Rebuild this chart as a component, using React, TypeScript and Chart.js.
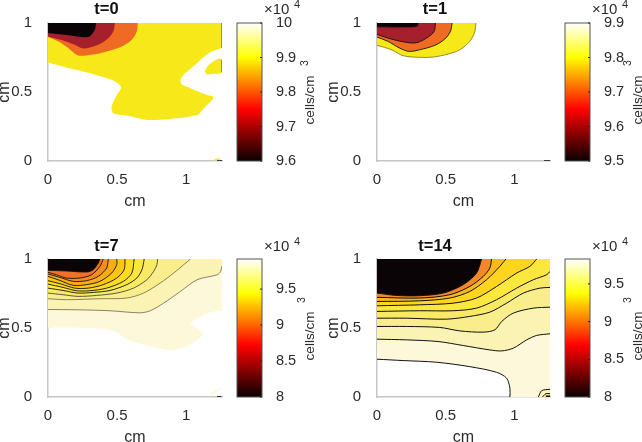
import React, { useEffect, useRef } from "react";
import { Chart, registerables } from "chart.js";

Chart.register(...registerables);

type Pt = [number, number];

const FONT = "'Liberation Sans', Arial, sans-serif";
const INK = "#2b2b2b";
const X_MAX = 1.26;
const X_TICKS = [0, 0.5, 1];
const Y_TICKS = [0, 0.5, 1];

// Colormap stops of the colour bars
const HOT_OFFSETS = [0, 0.375, 0.75, 1];
const HOT_COLORS = ["#0a0000", "#ff0000", "#ffff00", "#ffffff"];

// t=0
const t0Black: Pt[] = [[0.347, 1], [0.34, 0.952], [0.308, 0.908], [0.267, 0.896], [0.133, 0.913], [0, 0.927]];
const t0Red: Pt[] = [[0.485, 1], [0.473, 0.939], [0.43, 0.884], [0.364, 0.843], [0.255, 0.816], [0.194, 0.843], [0.109, 0.874], [0, 0.903]];
const t0Orange: Pt[] = [[0.65, 1], [0.643, 0.939], [0.607, 0.879], [0.534, 0.83], [0.425, 0.794], [0.316, 0.77], [0.218, 0.765], [0.146, 0.818], [0.073, 0.867], [0, 0.898]];
const t0Yellow: Pt[] = [[0, 0.714], [0.133, 0.678], [0.255, 0.649], [0.4, 0.608], [0.485, 0.576], [0.529, 0.535], [0.498, 0.479], [0.461, 0.395], [0.473, 0.346], [0.57, 0.329], [0.716, 0.298], [0.862, 0.303], [1.08, 0.334], [1.129, 0.383], [1.2, 0.462], [1.153, 0.479], [1.032, 0.528], [0.971, 0.552], [0.959, 0.588], [0.995, 0.637], [1.08, 0.709], [1.165, 0.782], [1.26, 0.818]];
const t0Island: Pt[] = [[1.133, 0.649], [1.165, 0.697], [1.226, 0.738], [1.26, 0.734], [1.26, 0.642], [1.2, 0.632], [1.153, 0.625]];
const t0Corner: Pt[] = [[1.177, 0], [1.226, 0.019], [1.26, 0.012]];
const t0Dot: Pt[] = [[1.225, 0.002], [1.26, 0.002]];
const t0EdgeTop: Pt[] = [[1.26, 1], [1.26, 0.82]];
const t0EdgeIsland: Pt[] = [[1.26, 0.734], [1.26, 0.642]];

// t=1
const t1Black: Pt[] = [[0.3, 1], [0.292, 0.976], [0.19, 0.971], [0, 0.972]];
const t1Red: Pt[] = [[0.426, 1], [0.416, 0.939], [0.372, 0.898], [0.3, 0.86], [0.25, 0.855], [0.141, 0.874], [0.056, 0.898], [0, 0.918]];
const t1Orange: Pt[] = [[0.547, 1], [0.535, 0.939], [0.494, 0.884], [0.421, 0.838], [0.311, 0.806], [0.234, 0.794], [0.165, 0.818], [0.08, 0.867], [0, 0.898]];
const t1Yellow: Pt[] = [[0.72, 1], [0.713, 0.939], [0.676, 0.867], [0.603, 0.806], [0.518, 0.775], [0.409, 0.753], [0.311, 0.751], [0.19, 0.763], [0.117, 0.801], [0.056, 0.823], [0, 0.838]];
const t1Dot: Pt[] = [[1.217, 0.002], [1.26, 0.002]];

// t=7
const t7Cream: Pt[] = [[0, 0.504], [0.133, 0.504], [0.376, 0.494], [0.498, 0.47], [0.558, 0.426], [0.691, 0.378], [0.886, 0.341], [1.007, 0.366], [1.08, 0.414], [1.121, 0.455], [1.08, 0.499], [1.032, 0.528], [1.08, 0.571], [1.177, 0.615], [1.26, 0.625]];
const t7L1: Pt[] = [[0, 0.634], [0.206, 0.632], [0.449, 0.625], [0.667, 0.61], [0.74, 0.625], [0.837, 0.68], [0.959, 0.765], [1.08, 0.85], [1.226, 0.886], [1.25, 0.91], [1.26, 0.95]];
const t7L2: Pt[] = [[0, 0.712], [0.133, 0.705], [0.376, 0.712], [0.57, 0.717], [0.692, 0.753], [0.813, 0.826], [0.91, 0.898], [0.983, 0.959], [1.032, 1]];
const t7L3: Pt[] = [[0, 0.753], [0.109, 0.741], [0.218, 0.729], [0.352, 0.736], [0.498, 0.753], [0.619, 0.789], [0.716, 0.85], [0.765, 0.91], [0.789, 0.959], [0.794, 1]];
const t7L4: Pt[] = [[0, 0.789], [0.109, 0.772], [0.218, 0.753], [0.328, 0.758], [0.449, 0.772], [0.57, 0.814], [0.643, 0.862], [0.68, 0.922], [0.697, 1]];
const t7L5: Pt[] = [[0, 0.818], [0.109, 0.794], [0.206, 0.77], [0.303, 0.77], [0.425, 0.789], [0.546, 0.838], [0.607, 0.898], [0.624, 1]];
const t7L6: Pt[] = [[0, 0.843], [0.097, 0.818], [0.194, 0.789], [0.291, 0.789], [0.4, 0.814], [0.498, 0.862], [0.551, 0.922], [0.558, 1]];
const t7L7: Pt[] = [[0, 0.874], [0.085, 0.845], [0.182, 0.809], [0.279, 0.814], [0.376, 0.838], [0.461, 0.898], [0.498, 0.959], [0.498, 1]];
const t7L8: Pt[] = [[0, 0.891], [0.085, 0.867], [0.182, 0.838], [0.279, 0.843], [0.364, 0.874], [0.425, 0.935], [0.437, 1]];
const t7L9: Pt[] = [[0, 0.903], [0.061, 0.886], [0.133, 0.862], [0.231, 0.862], [0.316, 0.886], [0.376, 0.947], [0.4, 1]];
const t7Black: Pt[] = [[0, 0.918], [0.133, 0.913], [0.284, 0.906], [0.328, 0.923], [0.364, 0.971], [0.376, 1]];
const t7Corner: Pt[] = [[1.165, 0], [1.2, 0.044], [1.26, 0.063]];
const t7Dot: Pt[] = [[1.225, 0.002], [1.255, 0.002]];

// t=14
const t14L1: Pt[] = [[0, 0.274], [0.19, 0.264], [0.433, 0.252], [0.676, 0.22], [0.871, 0.179], [0.944, 0.136], [0.968, 0.063], [0.968, 0]];
const t14L2: Pt[] = [[0, 0.419], [0.214, 0.414], [0.445, 0.402], [0.628, 0.373], [0.822, 0.341], [0.908, 0.334], [0.993, 0.354], [1.09, 0.414], [1.163, 0.446], [1.26, 0.458]];
const t14L3: Pt[] = [[0, 0.511], [0.214, 0.511], [0.457, 0.504], [0.603, 0.479], [0.774, 0.47], [0.859, 0.487], [0.908, 0.547], [0.993, 0.608], [1.139, 0.644], [1.26, 0.651]];
const t14L4: Pt[] = [[0, 0.571], [0.214, 0.571], [0.506, 0.564], [0.676, 0.584], [0.822, 0.615], [0.944, 0.68], [1.066, 0.753], [1.187, 0.789], [1.26, 0.794]];
const t14L5: Pt[] = [[0, 0.62], [0.311, 0.625], [0.555, 0.625], [0.725, 0.644], [0.871, 0.705], [1.017, 0.789], [1.139, 0.85], [1.236, 0.886], [1.26, 0.91]];
const t14L6: Pt[] = [[0, 0.661], [0.311, 0.668], [0.555, 0.68], [0.725, 0.717], [0.871, 0.801], [1.017, 0.898], [1.114, 0.947], [1.163, 1]];
const t14L7: Pt[] = [[0, 0.692], [0.311, 0.697], [0.53, 0.717], [0.676, 0.765], [0.798, 0.85], [0.895, 0.947], [0.939, 1]];
const t14L8: Pt[] = [[0, 0.722], [0.311, 0.717], [0.53, 0.741], [0.676, 0.801], [0.774, 0.874], [0.822, 0.935], [0.835, 1]];
const t14Black: Pt[] = [[0, 0.753], [0.141, 0.736], [0.311, 0.734], [0.482, 0.753], [0.628, 0.814], [0.725, 0.898], [0.762, 1]];
const t14CornerA: Pt[] = [[1.175, 0], [1.2, 0.046], [1.26, 0.056]];
const t14CornerB: Pt[] = [[1.205, 0], [1.23, 0.024], [1.26, 0.024]];
const t14Dot: Pt[] = [[1.23, 0.004], [1.26, 0.004]];

const TL: Pt[] = [[0, 1]];
const TR_TL: Pt[] = [[X_MAX, 1], [0, 1]];
const BR_TR_TL: Pt[] = [[X_MAX, 0], [X_MAX, 1], [0, 1]];
const NONE: Pt[] = [];

type Layer = { pts: Pt[]; close: Pt[]; fill: string; line?: string; width?: number };

const layers0: Layer[] = [
  { pts: t0Yellow, close: TR_TL, fill: "#f7e81a" },
  { pts: t0Island, close: NONE, fill: "#f7e81a" },
  { pts: t0Orange, close: TL, fill: "#ef6a22" },
  { pts: t0Red, close: TL, fill: "#a61f2c" },
  { pts: t0Black, close: TL, fill: "#0a0406" },
  { pts: t0Corner, close: NONE, fill: "#f7e81a" },
  { pts: t0Dot, close: NONE, fill: "#0a0406", line: "#111", width: 1 },
  { pts: t0EdgeTop, close: NONE, fill: "transparent", line: "#444", width: 1 },
  { pts: t0EdgeIsland, close: NONE, fill: "transparent", line: "#444", width: 1 },
];
const layers1: Layer[] = [
  { pts: t1Yellow, close: TL, fill: "#f7e81a", line: "#7a7410", width: 0.8 },
  { pts: t1Orange, close: TL, fill: "#ef6a22", line: "#111", width: 0.9 },
  { pts: t1Red, close: TL, fill: "#a61f2c", line: "#111", width: 0.9 },
  { pts: t1Black, close: TL, fill: "#0a0406", line: "#111", width: 0.8 },
  { pts: t1Dot, close: NONE, fill: "#0a0406", line: "#111", width: 1 },
];
const layers7: Layer[] = [
  { pts: t7Cream, close: TR_TL, fill: "#fdf8d9" },
  { pts: t7L1, close: TR_TL, fill: "#fbf3b4", line: "#55533a", width: 0.7 },
  { pts: t7L2, close: TL, fill: "#f9ed8c", line: "#55533a", width: 0.7 },
  { pts: t7L3, close: TL, fill: "#f9ea66", line: "#333", width: 0.8 },
  { pts: t7L4, close: TL, fill: "#fce83c", line: "#111", width: 0.9 },
  { pts: t7L5, close: TL, fill: "#fddb1f", line: "#111", width: 0.9 },
  { pts: t7L6, close: TL, fill: "#fdc615", line: "#111", width: 0.9 },
  { pts: t7L7, close: TL, fill: "#fbab1a", line: "#111", width: 0.9 },
  { pts: t7L8, close: TL, fill: "#f78d20", line: "#111", width: 0.9 },
  { pts: t7L9, close: TL, fill: "#f2702a", line: "#111", width: 0.9 },
  { pts: t7Black, close: TL, fill: "#0a0406", line: "#111", width: 0.9 },
  { pts: t7Corner, close: NONE, fill: "#fdf8d9" },
  { pts: t7Dot, close: NONE, fill: "#0a0406", line: "#111", width: 1.2 },
];
const layers14: Layer[] = [
  { pts: t14L1, close: BR_TR_TL, fill: "#fdf8d9", line: "#111", width: 1 },
  { pts: t14L2, close: TR_TL, fill: "#fbf3b4", line: "#111", width: 1 },
  { pts: t14L3, close: TR_TL, fill: "#f9ed8c", line: "#111", width: 1 },
  { pts: t14L4, close: TR_TL, fill: "#f9ea66", line: "#111", width: 1 },
  { pts: t14L5, close: TR_TL, fill: "#fce83c", line: "#111", width: 1 },
  { pts: t14L6, close: TL, fill: "#fdd51f", line: "#111", width: 1 },
  { pts: t14L7, close: TL, fill: "#fbb81a", line: "#111", width: 1 },
  { pts: t14L8, close: TL, fill: "#f6862a", line: "#111", width: 1 },
  { pts: t14Black, close: TL, fill: "#0a0406", line: "#111", width: 1 },
  { pts: t14CornerA, close: [[X_MAX, 0]], fill: "#fbf3b4", line: "#111", width: 1 },
  { pts: t14CornerB, close: [[X_MAX, 0]], fill: "#f9ed8c", line: "#111", width: 1 },
  { pts: t14Dot, close: NONE, fill: "#0a0406", line: "#111", width: 2 },
];

// Paints each contour's closed region, using the path of the line the library laid out.
const regionFill = {
  id: "regionFill",
  beforeDatasetDraw(chart: any, args: any) {
    const ds = chart.data.datasets[args.index];
    const meta = args.meta;
    const line = meta.dataset;
    if (!line || !ds.regionColor) return;
    const { ctx, chartArea: a, scales } = chart;
    ctx.save();
    ctx.beginPath();
    ctx.rect(a.left, a.top, a.right - a.left, a.bottom - a.top);
    ctx.clip();
    line.updateControlPoints(a, "x");
    ctx.beginPath();
    line.path(ctx);
    for (const [x, y] of ds.closeWith as Pt[]) {
      ctx.lineTo(scales.x.getPixelForValue(x), scales.y.getPixelForValue(y));
    }
    ctx.closePath();
    ctx.fillStyle = ds.regionColor;
    ctx.fill();
    ctx.restore();
  },
};

const CANVAS_H = 212;
const AXIS_H = 51;

function Panel({ title, layers, left, top, width, rightPad, titleTop, titleBottom }: { title: string; layers: Layer[]; left: number; top: number; width: number; rightPad: number; titleTop: number; titleBottom: number }) {
  const ref = useRef<HTMLCanvasElement>(null);
  useEffect(() => {
    const fixedTicks = (vals: number[]) => (s: any) => {
      s.ticks = vals.map((value) => ({ value }));
    };
    const chart = new Chart(ref.current!, {
      type: "scatter",
      plugins: [regionFill],
      data: {
        datasets: layers.map((l, i) => ({
          data: l.pts.map(([x, y]) => ({ x, y })),
          showLine: true,
          tension: 0.3,
          pointRadius: 0,
          borderColor: l.line ?? "transparent",
          borderWidth: l.line ? l.width : 0,
          order: layers.length - i,
          regionColor: l.fill,
          closeWith: l.close,
        })) as any,
      },
      options: {
        animation: false,
        responsive: false,
        layout: { padding: { right: rightPad, left: 0, top: 0, bottom: 0 } },
        plugins: {
          legend: { display: false },
          tooltip: { enabled: false },
          title: { display: true, text: title, color: "#111", font: { family: FONT, size: 16.5, weight: "bold" }, padding: { top: titleTop, bottom: titleBottom } },
        },
        scales: {
          x: {
            type: "linear",
            min: 0,
            max: X_MAX,
            afterBuildTicks: fixedTicks(X_TICKS),
            afterFit: (s: any) => { s.height = AXIS_H; },
            grid: { display: false },
            border: { color: "#c6c6c6", width: 1.5 },
            ticks: { color: INK, font: { family: FONT, size: 15 }, padding: 2, maxRotation: 0, autoSkip: false, callback: (v: any) => String(v) },
            title: { display: true, text: "cm", color: INK, font: { family: FONT, size: 16 }, padding: { top: 0, bottom: 1 } },
          },
          y: {
            type: "linear",
            min: 0,
            max: 1,
            afterBuildTicks: fixedTicks(Y_TICKS),
            afterFit: (s: any) => { s.width = 57; },
            grid: { display: false },
            border: { color: "#c6c6c6", width: 1.5 },
            ticks: { color: INK, font: { family: FONT, size: 15 }, padding: 8, autoSkip: false, callback: (v: any) => String(v) },
            title: { display: true, text: "cm", color: INK, font: { family: FONT, size: 16 }, padding: { top: 3.6, bottom: 0 } },
          },
        },
      } as any,
    });
    return () => chart.destroy();
  }, []);
  return <canvas ref={ref} width={width} height={CANVAS_H} style={{ position: "absolute", left, top, width, height: CANVAS_H }} />;
}

function ColorBar({ min, max, ticks, left, top, width, pad, cellsX, supX, supY, expX, expY }: any) {
  const ref = useRef<HTMLCanvasElement>(null);
  useEffect(() => {
    const chart = new Chart(ref.current!, {
      type: "bar",
      plugins: [
        {
          id: "barDecor",
          afterDraw(c: any) {
            const { ctx, chartArea: a, scales } = c;
            ctx.save();
            ctx.strokeStyle = "#555";
            ctx.lineWidth = 1;
            ctx.strokeRect(a.left, a.top, a.right - a.left, a.bottom - a.top);
            ctx.strokeStyle = "#222";
            for (const v of ticks) {
              const y = scales.y.getPixelForValue(v);
              ctx.beginPath();
              ctx.moveTo(a.right - 2, y);
              ctx.lineTo(a.right, y);
              ctx.stroke();
            }
            ctx.fillStyle = INK;
            ctx.textBaseline = "middle";
            ctx.textAlign = "left";
            ctx.font = `15px ${FONT}`;
            ctx.fillText("×10", expX, expY);
            ctx.font = `11px ${FONT}`;
            ctx.fillText("4", expX + 30, expY - 5);
            ctx.translate(cellsX, a.top + 77);
            ctx.rotate(-Math.PI / 2);
            ctx.textAlign = "center";
            ctx.font = `13.5px ${FONT}`;
            ctx.fillText("cells/cm", 0, 0);
            ctx.font = `10.5px ${FONT}`;
            ctx.fillText("3", supY, supX);
            ctx.restore();
          },
        },
      ],
      data: {
        labels: [""],
        datasets: [
          {
            data: [[min, max]],
            barPercentage: 1,
            categoryPercentage: 1,
            backgroundColor: (ctx: any) => {
              const a = ctx.chart.chartArea;
              if (!a) return "#000";
              const g = ctx.chart.ctx.createLinearGradient(0, a.bottom, 0, a.top);
              HOT_OFFSETS.forEach((o, i) => g.addColorStop(o, HOT_COLORS[i]));
              return g;
            },
          },
        ] as any,
      },
      options: {
        animation: false,
        responsive: false,
        layout: { padding: { left: pad, top: 23, bottom: AXIS_H, right: 0 } },
        plugins: { legend: { display: false }, tooltip: { enabled: false }, title: { display: false } },
        scales: {
          x: { display: false },
          y: {
            type: "linear",
            position: "right",
            min,
            max,
            afterBuildTicks: (s: any) => { s.ticks = ticks.map((value: number) => ({ value })); },
            afterFit: (s: any) => { s.width = width - pad - 25; },
            grid: { display: false },
            border: { display: false },
            ticks: { color: INK, font: { family: FONT, size: 14.5 }, padding: 6, autoSkip: false, callback: (v: any) => String(v) },
          },
        },
      } as any,
    });
    return () => chart.destroy();
  }, []);
  return <canvas ref={ref} width={width} height={CANVAS_H} style={{ position: "absolute", left, top, width, height: CANVAS_H }} />;
}

const bar0Ticks = [9.6, 9.7, 9.8, 9.9, 10];
const bar1Ticks = [9.5, 9.6, 9.7, 9.8, 9.9];
const bar7Ticks = [8, 8.5, 9, 9.5];
const bar14Ticks = [8, 8.5, 9, 9.5];

export default function App() {
  return (
    <div style={{ position: "fixed", left: 0, top: 0, width: 642, height: 442, overflow: "hidden", background: "#fff", filter: "blur(0.45px)" }}>
      <Panel title="t=0" layers={layers0} left={-9} top={0} width={280} rightPad={49} titleTop={0} titleBottom={3.2} />
      <Panel title="t=1" layers={layers1} left={320} top={0} width={278} rightPad={48} titleTop={0} titleBottom={3.2} />
      <Panel title="t=7" layers={layers7} left={-9} top={236} width={280} rightPad={49} titleTop={1} titleBottom={2.2} />
      <Panel title="t=14" layers={layers14} left={320} top={236} width={278} rightPad={48} titleTop={1} titleBottom={2.2} />
      <ColorBar min={9.6} max={10} ticks={bar0Ticks} left={225} top={0} width={95} pad={12} cellsX={85} supX={-5} supY={37} expX={39} expY={10} />
      <ColorBar min={9.5} max={9.9} ticks={bar1Ticks} left={555} top={0} width={87} pad={10} cellsX={83} supX={-10} supY={37} expX={37} expY={10} />
      <ColorBar min={8} max={9.918} ticks={bar7Ticks} left={225} top={236} width={95} pad={12} cellsX={85} supX={-8} supY={36} expX={39} expY={11} />
      <ColorBar min={8} max={9.83} ticks={bar14Ticks} left={555} top={236} width={87} pad={10} cellsX={83} supX={-10} supY={36} expX={37} expY={11} />
    </div>
  );
}
